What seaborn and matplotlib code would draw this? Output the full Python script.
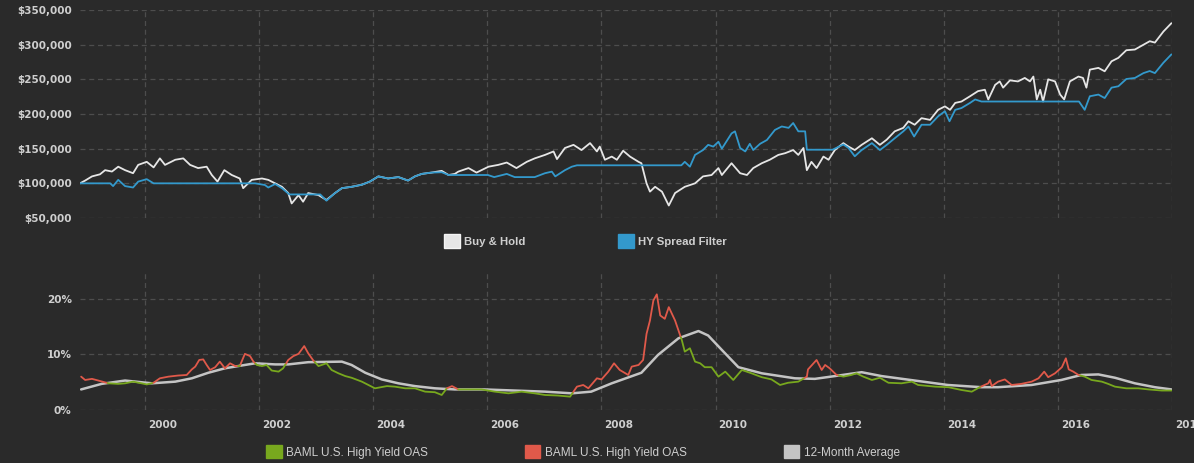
import numpy as np
import pandas as pd
import seaborn as sns
import matplotlib.pyplot as plt
import matplotlib.transforms as mtransforms
from matplotlib.patches import Patch
from matplotlib.ticker import FuncFormatter

# Buy & Hold portfolio value (decimal year, thousands of $)
bh_year = [1998.86, 1998.95, 1999.07, 1999.21, 1999.30, 1999.42, 1999.53, 1999.65, 1999.79, 1999.88,
           2000.03, 2000.15, 2000.26, 2000.35, 2000.53, 2000.67, 2000.79, 2000.93, 2001.08, 2001.17,
           2001.27, 2001.39, 2001.52, 2001.66, 2001.72, 2001.87, 2002.05, 2002.16, 2002.28, 2002.40,
           2002.51, 2002.57, 2002.69, 2002.77, 2002.86, 2003.04, 2003.18, 2003.33, 2003.45, 2003.62,
           2003.80, 2003.94, 2004.09, 2004.26, 2004.44, 2004.61, 2004.73, 2004.85, 2005.02, 2005.20,
           2005.32, 2005.43, 2005.49, 2005.67, 2005.81, 2006.02, 2006.19, 2006.34, 2006.51, 2006.69,
           2006.83, 2007.01, 2007.16, 2007.22, 2007.36, 2007.51, 2007.65, 2007.80, 2007.92, 2007.97,
           2008.06, 2008.18, 2008.27, 2008.38, 2008.50, 2008.65, 2008.70, 2008.79, 2008.85, 2008.94,
           2009.06, 2009.18, 2009.29, 2009.46, 2009.64, 2009.78, 2009.93, 2010.05, 2010.11, 2010.28,
           2010.43, 2010.55, 2010.66, 2010.81, 2010.95, 2011.10, 2011.22, 2011.36, 2011.45, 2011.54,
           2011.60, 2011.68, 2011.77, 2011.89, 2011.98, 2012.09, 2012.24, 2012.33, 2012.44, 2012.56,
           2012.74, 2012.88, 2013.00, 2013.14, 2013.29, 2013.38, 2013.49, 2013.61, 2013.76, 2013.90,
           2014.02, 2014.11, 2014.20, 2014.31, 2014.46, 2014.60, 2014.72, 2014.78, 2014.90, 2014.98,
           2015.04, 2015.16, 2015.30, 2015.42, 2015.51, 2015.57, 2015.63, 2015.69, 2015.74, 2015.83,
           2015.95, 2016.04, 2016.11, 2016.21, 2016.36, 2016.44, 2016.50, 2016.56, 2016.71, 2016.82,
           2016.94, 2017.06, 2017.20, 2017.35, 2017.50, 2017.61, 2017.70, 2017.85, 2017.99]
bh_value_k = [100, 104, 110, 113, 119, 117, 124, 119, 114.6, 126.6,
              131, 123, 136, 126.6, 134, 136, 126.6, 122, 124, 112,
              102.5, 119, 112, 107, 93, 105, 107, 105, 100, 95,
              86, 71, 83, 73.5, 86, 83, 76, 86, 93, 95,
              98, 102.5, 110, 107, 109, 104, 110, 113.6, 115.5, 118,
              112, 113.6, 116.9, 122, 115.5, 124, 126.6, 130, 122, 131,
              136, 141, 146, 135, 151, 155.5, 148, 158, 146, 153,
              134, 138.6, 134, 147, 138.6, 131, 129, 100, 88, 95,
              88, 68, 86, 95, 100, 110, 112, 122, 112, 129,
              114.6, 112, 122, 129, 134, 141, 143.5, 148, 141, 151,
              119, 131, 122, 138.6, 134, 148, 158, 153, 148, 155.5,
              165, 155.5, 163, 175, 180, 189.5, 184.5, 194, 191.5, 206,
              211, 206, 216, 218, 225.6, 233, 235, 221, 242, 247,
              238, 248.5, 247, 252, 247, 254, 221, 235, 218, 250,
              247, 228, 221, 247, 254, 252, 238, 264, 266.5, 261.6,
              276, 281, 292, 293, 300, 305, 303, 319, 331]

# HY Spread Filter portfolio value
hy_year = [1998.86, 1999.39, 1999.44, 1999.53, 1999.65, 1999.79, 1999.88, 2000.03, 2000.15, 2001.93,
           2002.10, 2002.16, 2002.28, 2002.40, 2002.53, 2003.07, 2003.18, 2003.33, 2003.45, 2003.62,
           2003.80, 2003.94, 2004.09, 2004.26, 2004.44, 2004.61, 2004.73, 2004.85, 2005.02, 2005.20,
           2005.32, 2006.01, 2006.12, 2006.34, 2006.48, 2006.83, 2007.01, 2007.13, 2007.19, 2007.36,
           2007.48, 2007.57, 2009.40, 2009.46, 2009.55, 2009.64, 2009.78, 2009.87, 2009.96, 2010.05,
           2010.11, 2010.28, 2010.34, 2010.43, 2010.52, 2010.60, 2010.66, 2010.78, 2010.90, 2011.04,
           2011.16, 2011.28, 2011.36, 2011.45, 2011.57, 2011.60, 2012.05, 2012.24, 2012.33, 2012.44,
           2012.56, 2012.74, 2012.88, 2013.00, 2013.14, 2013.29, 2013.38, 2013.48, 2013.61, 2013.76,
           2013.90, 2014.02, 2014.10, 2014.20, 2014.31, 2014.46, 2014.55, 2014.66, 2016.37, 2016.47,
           2016.56, 2016.71, 2016.82, 2016.94, 2017.06, 2017.20, 2017.35, 2017.50, 2017.61, 2017.70,
           2017.85, 2017.99]
hy_value_k = [100, 100, 96, 105, 96, 94, 102.5, 106, 100, 100,
              97.6, 94, 99, 93, 84, 84, 75, 86, 93, 95,
              98, 102.5, 110, 107, 109, 104, 110, 113.6, 115.5, 116,
              112, 112, 109, 113.6, 109, 109, 114.6, 116.9, 110, 119,
              124, 126, 126, 131, 124, 141, 148, 155.5, 153, 160,
              150, 172, 175, 151, 146, 157, 148, 157, 162.5, 177,
              182, 180, 187, 175, 175, 148.5, 148.5, 156, 151, 139,
              148, 158, 148, 155.5, 165, 175, 182, 167.5, 184.5, 184.5,
              196.6, 204, 189.5, 206, 208.6, 216, 221, 218, 218, 206,
              225.6, 228, 223, 238, 240, 250.5, 252, 259, 262, 259,
              274, 286]

# BAML U.S. High Yield OAS (%)
oas_year = [1998.88, 1998.95, 1999.07, 1999.18, 1999.36, 1999.53, 1999.65, 1999.79, 1999.94, 2000.03,
            2000.15, 2000.26, 2000.41, 2000.58, 2000.73, 2000.82, 2000.88, 2000.95, 2001.02, 2001.08,
            2001.14, 2001.23, 2001.31, 2001.40, 2001.49, 2001.58, 2001.66, 2001.75, 2001.84, 2001.90,
            2001.96, 2002.05, 2002.13, 2002.22, 2002.34, 2002.42, 2002.51, 2002.60, 2002.69, 2002.79,
            2002.86, 2002.95, 2003.04, 2003.18, 2003.27, 2003.39, 2003.51, 2003.62, 2003.80, 2004.03,
            2004.24, 2004.38, 2004.56, 2004.73, 2004.91, 2005.08, 2005.20, 2005.29, 2005.38, 2005.49,
            2005.73, 2005.90, 2006.13, 2006.37, 2006.60, 2006.83, 2007.01, 2007.24, 2007.45, 2007.57,
            2007.68, 2007.77, 2007.92, 2008.00, 2008.12, 2008.22, 2008.32, 2008.47, 2008.53, 2008.65,
            2008.73, 2008.79, 2008.85, 2008.91, 2008.97, 2009.03, 2009.11, 2009.18, 2009.29, 2009.35,
            2009.41, 2009.46, 2009.55, 2009.64, 2009.73, 2009.81, 2009.93, 2010.05, 2010.17, 2010.31,
            2010.46, 2010.63, 2010.81, 2010.98, 2011.13, 2011.27, 2011.45, 2011.60, 2011.62, 2011.77,
            2011.86, 2011.92, 2012.00, 2012.12, 2012.24, 2012.38, 2012.47, 2012.59, 2012.74, 2012.88,
            2013.03, 2013.26, 2013.44, 2013.55, 2013.85, 2014.08, 2014.31, 2014.49, 2014.63, 2014.78,
            2014.81, 2014.84, 2014.95, 2015.07, 2015.19, 2015.36, 2015.54, 2015.66, 2015.76, 2015.83,
            2015.95, 2016.07, 2016.14, 2016.19, 2016.27, 2016.36, 2016.47, 2016.59, 2016.77, 2016.88,
            2017.00, 2017.20, 2017.41, 2017.59, 2017.82, 2017.99]
oas_value = [6.0, 5.4, 5.6, 5.3, 4.8, 4.7, 4.8, 5.1, 4.8, 4.6,
             4.9, 5.7, 6.0, 6.2, 6.3, 7.3, 7.8, 9.0, 9.1, 8.1,
             7.2, 7.7, 8.7, 7.5, 8.4, 7.9, 7.9, 10.1, 9.7, 8.7,
             8.1, 7.9, 8.1, 7.1, 6.9, 7.5, 9.0, 9.7, 10.1, 11.5,
             10.2, 8.9, 7.9, 8.4, 7.2, 6.6, 6.1, 5.8, 5.1, 3.9,
             4.3, 4.2, 3.9, 3.9, 3.3, 3.2, 2.7, 3.9, 4.3, 3.7,
             3.7, 3.7, 3.3, 3.0, 3.3, 3.0, 2.7, 2.6, 2.4, 4.2,
             4.5, 3.9, 5.7, 5.5, 6.9, 8.4, 7.2, 6.3, 7.8, 8.1,
             9.0, 13.7, 16.1, 19.7, 20.8, 17.0, 16.4, 18.5, 16.1, 14.3,
             12.5, 10.5, 11.1, 8.7, 8.4, 7.7, 7.7, 6.0, 6.9, 5.4,
             7.2, 6.6, 5.9, 5.5, 4.5, 4.9, 5.1, 6.0, 7.3, 9.0,
             7.2, 8.1, 7.5, 6.3, 6.0, 6.3, 6.6, 6.0, 5.4, 5.8,
             4.9, 4.8, 5.1, 4.5, 4.2, 4.1, 3.6, 3.3, 4.1, 4.8,
             5.4, 4.3, 5.1, 5.5, 4.5, 4.7, 5.1, 5.7, 6.9, 5.9,
             6.6, 7.7, 9.3, 7.3, 6.9, 6.3, 6.0, 5.4, 5.1, 4.7,
             4.2, 3.9, 3.9, 3.7, 3.5, 3.5]

# 12-Month Average of the OAS (%)
avg_year = [1998.88, 1999.24, 1999.65, 2000.12, 2000.53, 2000.82, 2001.11, 2001.40, 2001.69, 2001.93,
            2002.28, 2002.51, 2002.86, 2003.45, 2003.62, 2003.86, 2004.15, 2004.44, 2004.73, 2005.08,
            2005.43, 2005.94, 2007.01, 2007.48, 2007.82, 2008.18, 2008.70, 2008.99, 2009.35, 2009.70,
            2009.87, 2010.11, 2010.40, 2010.81, 2011.39, 2011.74, 2012.09, 2012.56, 2012.91, 2013.49,
            2014.07, 2014.66, 2014.95, 2015.54, 2016.06, 2016.41, 2016.71, 2017.00, 2017.35, 2017.70,
            2017.99]
avg_value = [3.7, 4.7, 5.3, 4.8, 5.1, 5.7, 6.7, 7.5, 8.0, 8.4,
             8.2, 8.2, 8.6, 8.7, 8.1, 6.7, 5.5, 4.8, 4.3, 3.9,
             3.7, 3.7, 3.3, 3.0, 3.3, 4.8, 6.7, 9.9, 12.9, 14.2,
             13.4, 10.8, 7.7, 6.6, 5.7, 5.6, 6.1, 6.8, 6.1, 5.3,
             4.5, 4.1, 4.1, 4.5, 5.4, 6.3, 6.4, 5.8, 4.8, 4.1,
             3.7]

year_ticks = [2000, 2002, 2004, 2006, 2008, 2010, 2012, 2014, 2016, 2018]

bg = '#2a2a2a'
txt = '#cfcfcf'
grid = '#4d4d4d'
c_bh = '#e6e6e6'
c_hy = '#3399cc'
c_lo = '#78a81e'
c_hi = '#e0594a'
c_avg = '#c4c4c4'

sns.set_theme(style='dark', rc={'figure.facecolor': bg, 'axes.facecolor': bg,
                                'savefig.facecolor': bg})
plt.rcParams['font.family'] = ['DejaVu Sans']

fig = plt.figure(figsize=(11.94, 4.63), dpi=100)
ax1 = fig.add_axes([80 / 1194, 1 - 218 / 463, 1092 / 1194, 208 / 463])
ax2 = fig.add_axes([80 / 1194, 1 - 410 / 463, 1092 / 1194, 139 / 463])

# top panel
top = pd.concat([
    pd.DataFrame({'year': bh_year, 'value': np.array(bh_value_k) * 1000, 'series': 'Buy & Hold'}),
    pd.DataFrame({'year': hy_year, 'value': np.array(hy_value_k) * 1000, 'series': 'HY Spread Filter'}),
])
sns.lineplot(data=top, x='year', y='value', hue='series', estimator=None, legend=False,
             palette={'Buy & Hold': c_bh, 'HY Spread Filter': c_hy}, lw=1.3, ax=ax1)

# bottom panel: OAS is red while above its 12-month average, green below;
# runs are split where the two lines cross
oas = np.array(oas_value)
xo = np.array(oas_year)
diff = oas - np.interp(xo, avg_year, avg_value)
rows = []
run_id = 0
up = diff[0] > 0
rows.append((xo[0], oas[0], up, run_id))
for i in range(1, len(oas)):
    if (diff[i] > 0) != up:
        t = diff[i - 1] / (diff[i - 1] - diff[i])
        xc = xo[i - 1] + t * (xo[i] - xo[i - 1])
        yc = oas[i - 1] + t * (oas[i] - oas[i - 1])
        rows.append((xc, yc, up, run_id))
        run_id += 1
        up = not up
        rows.append((xc, yc, up, run_id))
    rows.append((xo[i], oas[i], up, run_id))
oas_df = pd.DataFrame(rows, columns=['year', 'oas', 'above', 'run'])
oas_df['zone'] = np.where(oas_df['above'], 'hi', 'lo')

sns.lineplot(x=avg_year, y=avg_value, color=c_avg, lw=1.8, ax=ax2)
sns.lineplot(data=oas_df, x='year', y='oas', hue='zone', units='run', estimator=None, sort=False,
             palette={'hi': c_hi, 'lo': c_lo}, legend=False, lw=1.3, ax=ax2)

for ax in (ax1, ax2):
    ax.set_xlim(1998.86, 2018.0)
    ax.set_xticks(year_ticks)
    ax.grid(True, color=grid, ls=(0, (4, 3)), lw=0.9)
    ax.set_xlabel('')
    ax.set_ylabel('')
    for s in ax.spines.values():
        s.set_visible(False)
    ax.tick_params(length=0, colors=txt, labelsize=7.5, pad=6)
    ax.set_axisbelow(True)

ax1.set_ylim(50000, 350000)
ax1.set_yticks(range(50000, 350001, 50000))
ax1.yaxis.set_major_formatter(FuncFormatter(lambda v, p: f'${v:,.0f}'))
ax1.set_xticklabels([])

ax2.set_ylim(0, 25)
ax2.set_yticks([0, 10, 20])
ax2.yaxis.set_major_formatter(FuncFormatter(lambda v, p: f'{v:.0f}%'))
ax2.set_xticklabels([str(y) for y in year_ticks])
ax2.tick_params(axis='x', pad=7)
shift = mtransforms.ScaledTranslation(3 / 100, 0, fig.dpi_scale_trans)
for lab in ax2.get_xticklabels():
    lab.set_horizontalalignment('left')
    lab.set_transform(lab.get_transform() + shift)

for lab in ax1.get_yticklabels() + ax2.get_yticklabels() + ax2.get_xticklabels():
    lab.set_fontweight('bold')

# legends
h_top = [Patch(facecolor=c_bh, edgecolor='#f4f4f4', label='Buy & Hold'),
         Patch(facecolor=c_hy, edgecolor=c_hy, label='HY Spread Filter')]
fig.legend(handles=h_top, loc='center', bbox_to_anchor=(585.5 / 1194, 1 - 241 / 463), ncol=2,
           frameon=False, handlelength=1.4, handleheight=1.4, handletextpad=0.4,
           columnspacing=8.1, labelcolor=txt,
           prop={'family': 'Liberation Sans', 'weight': 'bold', 'size': 8.2})

h_bot = [Patch(facecolor=c_lo, edgecolor=c_lo, label='BAML U.S. High Yield OAS'),
         Patch(facecolor=c_hi, edgecolor=c_hi, label='BAML U.S. High Yield OAS'),
         Patch(facecolor=c_avg, edgecolor=c_avg, label='12-Month Average')]
fig.legend(handles=h_bot, loc='center', bbox_to_anchor=(583 / 1194, 1 - 452 / 463), ncol=3,
           frameon=False, handlelength=1.3, handleheight=1.3, handletextpad=0.4,
           columnspacing=8.2, labelcolor=txt,
           prop={'family': 'Liberation Sans', 'size': 8.5})

fig.savefig('out.png', dpi=100, facecolor=bg)
